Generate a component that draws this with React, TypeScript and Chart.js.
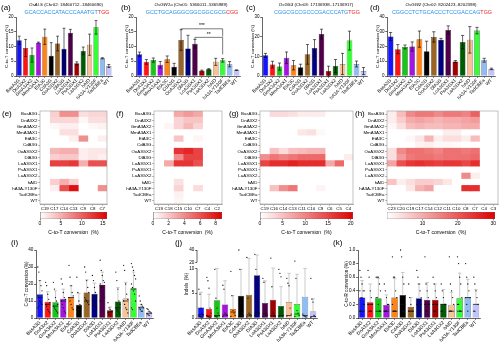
import React, { useEffect, useRef } from "react";
import { Chart, registerables } from "chart.js";

Chart.register(...registerables);

const FONT = "'Liberation Sans', Arial, Helvetica, sans-serif";

// ---------- categories ----------
const editors = ["BasA3G", "DnA3X2", "GmA3AX2", "MmA3AX1", "EtA3C", "CdA3G", "OoA3GX2", "DlA3G", "LoA3GX1", "PsA3GX1", "LaA3GX2", "hAID", "hA3A-Y130F", "TadCBEa", "WT"];
const editorColors = ["#1414ff", "#ff1414", "#14c814", "#a414e0", "#ff8414", "#000000", "#996424", "#000080", "#50004a", "#a00000", "#005c00", "#f8c296", "#34ff34", "#90bcf4", "#c2c2ff"];

// ---------- (a)-(d) per-site C-to-T conversion ----------
const alsMean = [12.1, 9.5, 7.1, 11.3, 13.3, 6.9, 11.0, 9.2, 14.7, 4.3, 8.5, 10.6, 16.5, 6.0, 3.4];
const alsSd = [1.4, 2.9, 2.4, 0.2, 2.6, 4.4, 2.5, 7.0, 1.1, 0.5, 1.3, 3.6, 2.3, 0.2, 0.5];
const gw1aMean = [7.4, 4.8, 5.4, 3.8, 5.7, 3.1, 12.2, 9.3, 10.9, 1.8, 2.3, 4.8, 5.3, 4.0, 2.0];
const gw1aSd = [0.7, 0.8, 0.7, 1.1, 1.1, 1.2, 3.5, 4.5, 1.5, 0.2, 0.2, 1.2, 0.6, 0.9, 0.1];
const gs3Mean = [10.5, 5.8, 4.8, 9.3, 5.5, 4.4, 11.0, 14.3, 21.3, 2.5, 5.1, 6.1, 18.0, 6.1, 2.5];
const gs3Sd = [1.0, 1.7, 1.8, 2.9, 2.4, 1.6, 5.0, 4.2, 2.5, 2.5, 3.3, 5.4, 4.8, 1.5, 1.8];
const gw2Mean = [26.8, 18.2, 19.7, 20.0, 25.0, 16.8, 26.5, 24.5, 31.2, 9.8, 23.0, 24.5, 30.8, 10.7, 4.8];
const gw2Sd = [2.7, 3.1, 1.3, 3.1, 5.5, 6.8, 3.5, 1.0, 2.8, 0.7, 4.5, 9.0, 2.2, 1.3, 0.5];

const ticks20 = [0, 5, 10, 15, 20];
const ticks30 = [0, 10, 20, 30];
const ticks40 = [0, 10, 20, 30, 40];

// significance brackets in (b): [fromIndex, toIndex, level, leftEnd, rightEnd, label]
const gw1aBrackets: [number, number, number, number, number, string][] = [
  [6, 12, 16.0, 15.7, 13.4, "***"],
  [8, 12, 13.1, 12.5, 7.3, "**"],
];

// ---------- (e)-(h) heatmaps: rows = editors, columns = positions ----------
const alsCols = ["C19", "C17", "C14", "C13", "C9", "C8", "C7"];
const alsHeat = [
  [0, 3, 7, 7, 2, 2.5, 2.5],
  [0, 2.5, 2.5, 2.5, 0.5, 2, 2],
  [0, 0.5, 1, 1, 0, 0.5, 0.8],
  [0, 0, 2, 2, 0, 0, 0],
  [0, 0, 0, 1, 7, 0, 1],
  [0, 0, 0, 0, 0, 0, 0],
  [0, 4.5, 5, 5, 1, 1.5, 1.5],
  [0, 3, 3.5, 3.5, 1, 1.5, 1],
  [0, 12, 12, 12.5, 5, 11, 11],
  [0, 0, 0, 0, 0, 0, 0],
  [0, 0, 0, 0, 0, 0, 0],
  [0, 3, 5, 3, 0, 0, 0],
  [0, 1, 11, 15, 0, 0, 7],
  [0, 0, 0, 0, 0, 0, 0],
  [0, 0, 0, 0, 0, 0, 0],
];
const gw1aCols = ["C19", "C18", "C15", "C10", "C7", "C4", "C2"];
const gw1aHeat = [
  [0, 0, 3, 3.5, 3, 0, 0],
  [0, 0, 1.5, 2, 2, 0, 0],
  [0, 0.3, 1.5, 2.5, 1.5, 0, 0],
  [0, 0, 0, 0, 0, 0, 0],
  [0, 0, 2, 0, 0.3, 0, 0],
  [0, 0, 0, 0, 0, 0, 0],
  [0, 0, 7, 7.5, 6.5, 0, 0],
  [0, 0, 4, 6.5, 6.5, 0, 0],
  [0, 3, 7, 7, 6, 0, 0],
  [0, 0, 0, 0, 0, 0, 0],
  [0, 0, 0, 0, 0, 0, 0],
  [0, 0, 1, 0, 0, 0, 0],
  [0, 0, 1.5, 0, 1.2, 0, 0],
  [0, 0, 0.5, 0, 0, 0, 0],
  [0, 0, 0.3, 0, 0, 0, 0],
];
const gs3Cols = ["C19", "C16", "C14", "C13", "C11", "C10", "C9", "C6", "C5", "C4"];
const gs3Heat = [
  [0, 3, 3, 2.5, 1.5, 1.5, 1.5, 0, 0, 0],
  [0, 0, 0, 0, 0, 0, 0, 0, 0, 0],
  [0, 0, 0, 0, 0, 0, 0, 0, 0, 0],
  [0, 0, 0, 0, 2, 2.5, 0.5, 0, 0, 0],
  [0, 0, 0, 0, 0, 0, 0, 0, 0, 0],
  [0, 0, 0, 0, 0, 0, 0, 0, 0, 0],
  [0, 5, 3, 5, 5.5, 6, 6, 0, 0, 0],
  [9, 11, 10, 11, 12, 12, 12, 0, 0, 1.5],
  [15, 17, 17, 18, 17, 17, 17, 7, 12, 0],
  [0, 0, 0, 0, 0, 0, 0, 0, 0, 0],
  [0, 0, 0, 0, 0, 0, 0, 0, 0, 0],
  [0, 0, 0, 0, 0, 0, 0, 0, 0, 0],
  [0, 5, 9, 11, 0, 0, 1, 0, 0, 0],
  [0, 0, 0, 0, 0, 0, 0, 0, 0, 0],
  [0, 0, 0, 0, 0, 0, 0, 0, 0, 0],
];
const gw2Cols = ["C23", "C20", "C19", "C17", "C14", "C12", "C11", "C10", "C8", "C7", "C4", "C3"];
const gw2Heat = [
  [2, 8, 14, 16, 16, 14, 16, 16, 15, 19, 0, 0],
  [2, 6, 10, 11, 10, 9, 10, 10, 11, 12, 0, 0],
  [1, 4, 8, 9, 8, 8, 9, 9, 10, 10, 0, 0],
  [0, 0, 0, 0, 0, 0, 2, 2, 0, 0, 0, 0],
  [0, 0, 1, 3, 9, 2, 4, 4, 2, 8, 0, 0],
  [0, 0, 0, 1.5, 2, 1, 1, 0.5, 0, 0, 0, 0],
  [4, 14, 17, 17, 16, 15, 17, 17, 16, 17, 0, 0],
  [4, 12, 16, 17, 17, 16, 17, 17, 17, 18, 0, 0],
  [11, 21, 24, 25, 24, 23, 24, 24, 22, 25, 0, 0],
  [0, 0, 0, 0, 0, 0, 0, 0, 0, 0, 0, 0],
  [0, 0, 0, 0, 0, 0, 0, 0, 14, 2, 0, 0],
  [7, 2, 4, 6, 6, 5, 3, 0, 0, 0, 0, 0],
  [0, 0, 3, 9, 11, 0, 0, 0, 25, 25, 0, 0],
  [0, 0, 0, 0, 0, 0, 0, 0, 0, 0, 0, 0],
  [0, 0, 0, 0, 0, 0, 0, 0, 0, 0, 0, 0],
];

// ---------- (i) pooled C-to-T ----------
const ctMean = [14, 9.5, 9.2, 11.3, 12.4, 7.8, 15, 14.2, 19.6, 4.6, 9.7, 11.5, 17.5, 6.7, 3.1];
const ctSd = [8, 6, 6.8, 5.7, 6.6, 6.7, 7.5, 6.3, 7.4, 1.9, 8.3, 9.5, 9.5, 1.3, 0.7];
const ctMedian = [12, 8, 7, 10, 12, 5, 10, 12, 19, 3.5, 6, 10, 17, 6, 2.8];
const ctDots = [
  [30, 27, 22, 19, 16, 13, 12, 10, 9, 8, 6, 7],
  [21, 19, 14, 11, 9, 8, 7, 5, 4, 3],
  [21, 17, 12, 10, 8, 7, 6, 5, 4, 3],
  [23, 20, 15, 12, 11, 10, 8, 6, 4, 3],
  [31, 24, 19, 15, 13, 12, 10, 8, 6, 5],
  [24, 15, 10, 8, 6, 5, 4, 3, 2],
  [30, 27, 22, 18, 15, 12, 11, 10, 9, 8],
  [25, 22, 18, 15, 13, 11, 9, 8, 7, 6],
  [34, 28, 25, 22, 21, 20, 18, 16, 14, 12, 10],
  [9, 6, 5, 4, 4, 3, 2, 2],
  [27, 22, 17, 10, 8, 6, 5, 4, 3, 2],
  [31, 28, 20, 14, 11, 10, 8, 6, 5, 3],
  [32, 30, 28, 25, 23, 20, 18, 16, 14, 10, 6, 5],
  [13, 10, 8, 7, 6, 6, 5, 4, 4],
  [5.5, 5, 4, 3.5, 3, 2.5, 2, 1.5],
];

// ---------- (j) indels ----------
const indelMean = [2.1, 1.8, 3.6, 2.7, 1.8, 4.5, 4.7, 8.6, 3.0, 3.7, 2.4, 3.2, 2.8, 4.3, 1.3];
const indelSd = [3.1, 3.0, 6.4, 4.8, 2.7, 5.3, 21.8, 23.4, 4.5, 6.8, 3.9, 5.8, 6.0, 5.7, 2.6];
const indelMedian = [0.7, 0.4, 0.5, 0.6, 1.2, 0.5, 0.6, 1, 0.8, 0.5, 0.5, 0.5, 0.8, 0.5, 0.3];
const indelDots = [
  [5.8, 4.8, 2, 1, 0.6, 0.4, 0.3, 0.2, 0.1],
  [8.2, 7.5, 6, 2, 1, 0.5, 0.3, 0.2, 0.1],
  [9.8, 4, 2, 1, 0.5, 0.4, 0.3, 0.2],
  [6.6, 5.8, 1, 0.8, 0.5, 0.3],
  [9.4, 4.5, 1.5, 1, 0.5, 0.3],
  [40, 9.8, 3, 1, 0.5, 0.3],
  [28, 4, 1, 0.6, 0.4, 0.2],
  [33, 9.8, 7.5, 3, 1, 0.5],
  [8, 7.2, 1.5, 1, 0.5, 0.3],
  [27, 6.3, 1, 0.5, 0.3],
  [9.8, 9, 8.3, 2, 0.5, 0.3],
  [8, 7, 6.5, 2, 0.8, 0.4],
  [22, 8, 1.5, 1, 0.5, 0.3],
  [0.8, 0.5, 0.3, 0.2],
  [8, 3.8, 3.2, 0.5, 0.3, 0.1],
];
const indelTicks = [0, 5, 10, 20, 40];

// ---------- (k) C-to-R ----------
const crMean = [0.30, 0.23, 0.29, 0.19, 0.30, 0.34, 0.16, 0.29, 0.27, 0.27, 0.21, 0.195, 0.29, 0.31, 0.21];
const crSd = [0.25, 0.27, 0.29, 0.15, 0.28, 0.33, 0.14, 0.21, 0.25, 0.23, 0.21, 0.185, 0.37, 0.26, 0.21];
const crMedian = [0.1, 0.2, 0.1, 0.1, 0.1, 0.2, 0.1, 0.2, 0.2, 0.2, 0.2, 0.1, 0.1, 0.3, 0.2];
const crDots = [
  [0.7, 0.6, 0.5, 0.4, 0.4, 0.4, 0.3, 0.3, 0.2, 0.2, 0.1, 0.1],
  [0.7, 0.6, 0.4, 0.3, 0.2, 0.2, 0.1, 0.1, 0.1],
  [0.6, 0.6, 0.6, 0.5, 0.4, 0.3, 0.3, 0.2, 0.1, 0.1],
  [0.5, 0.4, 0.3, 0.2, 0.2, 0.1, 0.1, 0.1],
  [0.9, 0.6, 0.6, 0.4, 0.3, 0.2, 0.1, 0.1, 0.1],
  [1.0, 0.9, 0.6, 0.5, 0.3, 0.3, 0.2, 0.1, 0.1],
  [0.5, 0.3, 0.2, 0.1, 0.1, 0.1, 0.1],
  [0.7, 0.6, 0.5, 0.4, 0.3, 0.2, 0.2, 0.1, 0.1],
  [0.9, 0.5, 0.4, 0.3, 0.2, 0.2, 0.1, 0.1],
  [0.6, 0.5, 0.4, 0.3, 0.2, 0.2, 0.1, 0.1],
  [0.5, 0.4, 0.3, 0.2, 0.2, 0.1, 0.1],
  [0.9, 0.5, 0.4, 0.3, 0.2, 0.1, 0.1, 0.1],
  [0.9, 0.8, 0.6, 0.5, 0.3, 0.2, 0.2, 0.1, 0.1],
  [0.8, 0.6, 0.5, 0.4, 0.3, 0.3, 0.2, 0.1],
  [0.6, 0.5, 0.4, 0.3, 0.2, 0.1, 0.1],
];
const crTicks = [0, 0.2, 0.4, 0.6, 0.8, 1.0];

// ---------- helpers ----------
function heatColor(v: number, max: number) {
  const t = Math.max(0, Math.min(1, v / max));
  const r = Math.round(255 - 32 * t);
  const gb = Math.round(255 * (1 - t));
  return `rgb(${r},${gb},${gb})`;
}

// broken axis mapping for (j)
function indelMap(v: number) {
  if (v <= 10) return v;
  if (v <= 20) return 10 + (v - 10) * 0.121;
  return 11.21 + (v - 20) * 0.1245;
}

function axisStyle(size: number, color = "#000") {
  return {
    grid: { display: true, drawOnChartArea: false, drawTicks: true, tickLength: 1.8, color, lineWidth: 0.6, offset: false },
    border: { display: true, color, width: 0.6 },
    ticks: { font: { family: FONT, size }, color: "#000", padding: 0.8 },
  };
}

function barConfig(p: any) {
  const tf = p.transform || ((v: number) => v);
  const overlay = {
    id: "overlay",
    afterDatasetsDraw(chart: any) {
      const ctx = chart.ctx;
      const y = chart.scales.y;
      const meta = chart.getDatasetMeta(0);
      ctx.save();
      meta.data.forEach((bar: any, i: number) => {
        const x = bar.x;
        const w = bar.width;
        ctx.strokeStyle = p.errColor;
        ctx.lineWidth = p.errWidth;
        const top = y.getPixelForValue(tf(p.values[i] + p.sd[i]));
        const bot = p.errBoth ? y.getPixelForValue(tf(Math.max(0, p.values[i] - p.sd[i]))) : bar.y;
        const cap = w * 0.28;
        ctx.beginPath();
        ctx.moveTo(x, top);
        ctx.lineTo(x, bot);
        ctx.moveTo(x - cap, top);
        ctx.lineTo(x + cap, top);
        if (p.errBoth) {
          ctx.moveTo(x - cap, bot);
          ctx.lineTo(x + cap, bot);
        }
        ctx.stroke();
        if (p.medians) {
          const my = y.getPixelForValue(tf(p.medians[i]));
          ctx.strokeStyle = "#111";
          ctx.lineWidth = 0.7;
          ctx.beginPath();
          ctx.moveTo(x - w * 0.42, my);
          ctx.lineTo(x + w * 0.42, my);
          ctx.stroke();
        }
        if (p.dots) {
          ctx.fillStyle = "#111";
          p.dots[i].forEach((v: number, k: number) => {
            const off = ((k % 5) - 2) * (w / 6);
            ctx.beginPath();
            ctx.arc(x + off, y.getPixelForValue(tf(v)), 0.65, 0, Math.PI * 2);
            ctx.fill();
          });
        }
      });
      if (p.brackets) {
        ctx.strokeStyle = "#222";
        ctx.fillStyle = "#000";
        ctx.lineWidth = 0.6;
        ctx.font = `5px ${FONT}`;
        ctx.textAlign = "center";
        ctx.textBaseline = "bottom";
        p.brackets.forEach((b: any) => {
          const x1 = meta.data[b[0]].x;
          const x2 = meta.data[b[1]].x;
          const yl = y.getPixelForValue(b[2]);
          ctx.beginPath();
          ctx.moveTo(x1, y.getPixelForValue(b[3]));
          ctx.lineTo(x1, yl);
          ctx.lineTo(x2, yl);
          ctx.lineTo(x2, y.getPixelForValue(b[4]));
          ctx.stroke();
          ctx.fillText(b[5], (x1 + x2) / 2, yl - 0.5);
        });
      }
      if (p.broken) {
        const xa = chart.chartArea.left;
        ctx.strokeStyle = "#000";
        ctx.lineWidth = 0.6;
        ctx.beginPath();
        ctx.moveTo(xa, y.getPixelForValue(tf(0)));
        ctx.lineTo(xa, y.getPixelForValue(tf(10)));
        ctx.moveTo(xa, y.getPixelForValue(tf(20)));
        ctx.lineTo(xa, y.getPixelForValue(tf(40)));
        ctx.stroke();
      }
      ctx.restore();
    },
  };
  const yStyle = axisStyle(p.yFont);
  const xStyle = axisStyle(p.xFont);
  return {
    type: "bar",
    data: {
      labels: editors,
      datasets: [
        {
          data: p.values.map(tf),
          backgroundColor: editorColors,
          borderColor: "#222",
          borderWidth: 0.5,
          barPercentage: 0.8,
          categoryPercentage: 1,
        },
      ],
    },
    options: {
      responsive: false,
      animation: false,
      events: [],
      layout: { padding: { top: p.padTop, right: 1, left: 0, bottom: 0 } },
      plugins: { legend: { display: false }, tooltip: { enabled: false } },
      scales: {
        x: {
          ...xStyle,
          ticks: { ...xStyle.ticks, minRotation: 45, maxRotation: 45, autoSkip: false, padding: 0 },
          afterFit(s: any) {
            s.height = p.xAxisH;
            s.paddingLeft = 0;
            s.paddingRight = 0;
          },
        },
        y: {
          ...yStyle,
          border: { ...yStyle.border, display: !p.broken },
          min: 0,
          max: tf(p.ticks[p.ticks.length - 1]),
          afterBuildTicks(s: any) {
            s.ticks = p.ticks.map((v: number) => ({ value: tf(v) }));
          },
          ticks: { ...yStyle.ticks, callback: (_v: any, i: number) => p.tickLabels[i] },
          title: {
            display: true,
            text: p.yTitle,
            color: "#000",
            font: { family: FONT, size: p.titleFont },
            padding: { top: p.titlePad, bottom: 0 },
          },
          afterFit(s: any) {
            s.width = p.yAxisW;
            s.paddingTop = 0;
            s.paddingBottom = 0;
          },
        },
      },
    },
    plugins: [overlay],
  };
}

function heatConfig(p: any) {
  const frame = {
    id: "frame",
    afterDraw(chart: any) {
      const { left, top, right, bottom } = chart.chartArea;
      const ctx = chart.ctx;
      ctx.save();
      ctx.strokeStyle = "#9a9a9a";
      ctx.lineWidth = 0.6;
      ctx.strokeRect(left, top, right - left, bottom - top);
      ctx.restore();
    },
  };
  const st = axisStyle(4.4, "#777");
  return {
    type: "bar",
    data: {
      labels: editors,
      datasets: p.cols.map((c: string, j: number) => ({
        label: c,
        data: editors.map(() => 1),
        backgroundColor: p.heat.map((row: number[]) => heatColor(row[j], p.max)),
        borderWidth: 0,
        barPercentage: 1,
        categoryPercentage: 1,
      })),
    },
    options: {
      indexAxis: "y",
      responsive: false,
      animation: false,
      events: [],
      layout: { padding: { top: p.padTop, right: 1, left: 0, bottom: 0 } },
      plugins: { legend: { display: false }, tooltip: { enabled: false } },
      scales: {
        x: {
          ...st,
          type: "linear",
          stacked: true,
          min: 0,
          max: p.cols.length,
          afterBuildTicks(s: any) {
            s.ticks = p.cols.map((_c: string, i: number) => ({ value: i + 0.5 }));
          },
          ticks: { ...st.ticks, callback: (_v: any, i: number) => p.cols[i], autoSkip: false, minRotation: 0, maxRotation: 0, padding: 0 },
          afterFit(s: any) {
            s.height = p.xAxisH;
            s.paddingLeft = 0;
            s.paddingRight = 0;
          },
        },
        y: {
          ...st,
          stacked: true,
          ticks: { ...st.ticks, autoSkip: false },
          afterFit(s: any) {
            s.width = p.yAxisW;
            s.paddingTop = 0;
            s.paddingBottom = 0;
          },
        },
      },
    },
    plugins: [frame],
  };
}

function cbarConfig(p: any) {
  return {
    type: "bar",
    data: {
      labels: [""],
      datasets: [
        {
          data: [p.max],
          backgroundColor: (c: any) => {
            const ca = c.chart.chartArea;
            if (!ca) return "#fff";
            const g = c.chart.ctx.createLinearGradient(ca.left, 0, ca.right, 0);
            for (let k = 0; k <= 10; k++) g.addColorStop(k / 10, heatColor((k / 10) * p.max, p.max));
            return g;
          },
          borderColor: "#666",
          borderWidth: 0.6,
          borderSkipped: false,
          barPercentage: 1,
          categoryPercentage: 1,
        },
      ],
    },
    options: {
      indexAxis: "y",
      responsive: false,
      animation: false,
      events: [],
      layout: { padding: { top: 4, right: 1, left: p.padLeft, bottom: 0 } },
      plugins: { legend: { display: false }, tooltip: { enabled: false } },
      scales: {
        x: {
          type: "linear",
          min: 0,
          max: p.max,
          afterBuildTicks(s: any) {
            s.ticks = p.ticks.map((v: number) => ({ value: v }));
          },
          grid: { display: true, drawOnChartArea: false, drawTicks: true, tickLength: 1.5, color: "#444", lineWidth: 0.6 },
          border: { display: false },
          ticks: { font: { family: FONT, size: 5 }, color: "#000", padding: 0.5, minRotation: 0, maxRotation: 0, autoSkip: false, callback: (v: any) => String(v) },
          title: { display: true, text: "C-to-T conversion  (%)", color: "#000", font: { family: FONT, size: 5 }, padding: { top: 0, bottom: 4 } },
          afterFit(s: any) {
            s.height = p.xAxisH;
            s.paddingLeft = 0;
            s.paddingRight = 0;
          },
        },
        y: { display: false },
      },
    },
  };
}

function ChartBox({ x, y, w, h, config }: any) {
  const ref = useRef<HTMLCanvasElement>(null);
  useEffect(() => {
    const chart = new Chart(ref.current as HTMLCanvasElement, config() as any);
    return () => chart.destroy();
  }, []);
  return <canvas ref={ref} width={w} height={h} style={{ position: "absolute", left: x, top: y, width: w, height: h }} />;
}

const topTitles = [
  { gene: "OsALS", loc: " (Chr02: 18460712..18460690)", seq: "GCACCACCATACCCAAATGT", pam: "TGG", cx: 66 },
  { gene: "OsGW1a", loc: " (Chr01: 5366011..5365989)", seq: "GCCTGCAGGGCGGCGGCGCG", pam: "CGG", cx: 191 },
  { gene: "OsGS3", loc: " (Chr03: 17136938..17136917)", seq: "CGGCGCCGCCCGACCCATG", pam: "TGG", cx: 316 },
  { gene: "OsGW2", loc: " (Chr02: 8202423..8202398)", seq: "CGGCCTCTGCACCCTCCGACCAG", pam: "TGG", cx: 441 },
];

const panelLabels: [string, number, number][] = [
  ["(a)", 1, 3], ["(b)", 121, 3], ["(c)", 246, 3], ["(d)", 370, 3],
  ["(e)", 2, 109], ["(f)", 116, 109], ["(g)", 229, 109], ["(h)", 355, 109],
  ["(i)", 11, 238], ["(j)", 175, 238], ["(k)", 333, 238],
];

const TOP = { y: 0, h: 104, padTop: 17, xAxisH: 28, yAxisW: 16 };
const BOT = { y: 244, h: 106, padTop: 6, xAxisH: 32, yAxisW: 24 };
const HM = { y: 107, h: 104, padTop: 4, xAxisH: 7, yAxisW: 40 };
const CB = { y: 208, h: 32, xAxisH: 21 };

function topBar(values: number[], sd: number[], ticks: number[], extra: any = {}) {
  return () =>
    barConfig({
      values, sd, ticks, tickLabels: ticks.map(String),
      padTop: TOP.padTop, xAxisH: TOP.xAxisH, yAxisW: TOP.yAxisW,
      yFont: 4.5, xFont: 4.7, titleFont: 4.4, titlePad: 4, yTitle: "C-to-T conversion (%)",
      errColor: "#000", errWidth: 0.6, errBoth: true, ...extra,
    });
}

function botBar(values: number[], sd: number[], ticks: number[], tickLabels: string[], yTitle: string, extra: any = {}) {
  return () =>
    barConfig({
      values, sd, ticks, tickLabels,
      padTop: BOT.padTop, xAxisH: BOT.xAxisH, yAxisW: extra.yAxisW || BOT.yAxisW,
      yFont: 4.6, xFont: 4.8, titleFont: 4.6, titlePad: extra.titlePad ?? 12, yTitle,
      errColor: "#a8a8a8", errWidth: 0.6, errBoth: false, ...extra,
    });
}

export default function App() {
  return (
    <div style={{ position: "fixed", left: 0, top: 0, width: 500, height: 350, background: "#fff", overflow: "hidden", fontFamily: FONT, color: "#000" }}>
      <ChartBox x={0} y={TOP.y} w={113} h={TOP.h} config={topBar(alsMean, alsSd, ticks20)} />
      <ChartBox x={120} y={TOP.y} w={121} h={TOP.h} config={topBar(gw1aMean, gw1aSd, ticks20, { brackets: gw1aBrackets })} />
      <ChartBox x={246} y={TOP.y} w={122} h={TOP.h} config={topBar(gs3Mean, gs3Sd, ticks30)} />
      <ChartBox x={371} y={TOP.y} w={125} h={TOP.h} config={topBar(gw2Mean, gw2Sd, ticks40)} />

      <ChartBox x={0} y={HM.y} w={108} h={HM.h} config={() => heatConfig({ cols: alsCols, heat: alsHeat, max: 16, ...HM })} />
      <ChartBox x={114} y={HM.y} w={109} h={HM.h} config={() => heatConfig({ cols: gw1aCols, heat: gw1aHeat, max: 8.8, ...HM })} />
      <ChartBox x={220} y={HM.y} w={134} h={HM.h} config={() => heatConfig({ cols: gs3Cols, heat: gs3Heat, max: 20.5, ...HM })} />
      <ChartBox x={347} y={HM.y} w={152} h={HM.h} config={() => heatConfig({ cols: gw2Cols, heat: gw2Heat, max: 30.5, ...HM })} />

      <ChartBox x={30} y={CB.y} w={78} h={CB.h} config={() => cbarConfig({ max: 16, ticks: [0, 5, 10, 15], padLeft: 10, xAxisH: CB.xAxisH })} />
      <ChartBox x={143} y={CB.y} w={80} h={CB.h} config={() => cbarConfig({ max: 8.8, ticks: [0, 2, 4, 6, 8], padLeft: 10, xAxisH: CB.xAxisH })} />
      <ChartBox x={250} y={CB.y} w={104} h={CB.h} config={() => cbarConfig({ max: 20.5, ticks: [0, 5, 10, 15, 20], padLeft: 10, xAxisH: CB.xAxisH })} />
      <ChartBox x={377} y={CB.y} w={119} h={CB.h} config={() => cbarConfig({ max: 30.5, ticks: [10, 20, 30], padLeft: 10, xAxisH: CB.xAxisH })} />

      <ChartBox x={12} y={BOT.y} w={142} h={BOT.h} config={botBar(ctMean, ctSd, ticks40, ticks40.map(String), "C-to-T conversion (%)", { medians: ctMedian, dots: ctDots })} />
      <ChartBox x={172} y={BOT.y} w={146} h={BOT.h} config={botBar(indelMean, indelSd, indelTicks, indelTicks.map(String), "Indels  (%)", { medians: indelMedian, dots: indelDots, transform: indelMap, broken: true, yAxisW: 25, titlePad: 12 })} />
      <ChartBox x={334} y={BOT.y} w={147} h={BOT.h} config={botBar(crMean, crSd, crTicks, crTicks.map((v) => v.toFixed(1)), "C-to-R conversion (%)", { medians: crMedian, dots: crDots, titlePad: 10 })} />

      {topTitles.map((t) => (
        <React.Fragment key={t.gene}>
          <div style={{ position: "absolute", left: t.cx, top: 2, transform: "translateX(-50%)", fontSize: 4.4, lineHeight: "5px", whiteSpace: "nowrap" }}>
            <i>{t.gene}</i>
            {t.loc}
          </div>
          <div style={{ position: "absolute", left: t.cx + 1, top: 8.5, transform: "translateX(-50%)", fontSize: 5.4, lineHeight: "6px", whiteSpace: "nowrap", color: "#2a8ee0" }}>
            {t.seq}
            <span style={{ color: "#f02020" }}>{t.pam}</span>
          </div>
        </React.Fragment>
      ))}

      {panelLabels.map(([s, x, y]) => (
        <div key={s} style={{ position: "absolute", left: x, top: y, fontSize: 8, lineHeight: "9px", whiteSpace: "nowrap" }}>
          {s}
        </div>
      ))}
    </div>
  );
}
